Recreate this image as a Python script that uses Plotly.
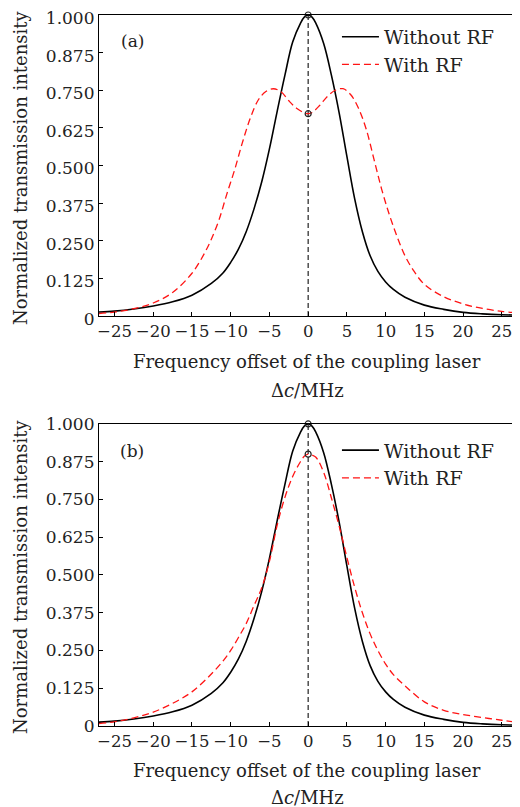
import plotly.graph_objects as go

# ---------------- data ----------------
x_grid = [-27, -25, -22.5, -20, -17.5, -15, -12.5, -11, -10, -9, -8, -7, -6, -5, -4, -3, -2, -1, -0.5, 0,
          0.5, 1, 2, 3, 4, 5, 6, 7, 8, 9, 10, 11, 12.5, 15, 17.5, 20, 22.5, 25, 27]
without_rf = [0.013, 0.016, 0.023, 0.033, 0.047, 0.069, 0.108, 0.143, 0.178, 0.222, 0.28, 0.355, 0.445, 0.555,
              0.68, 0.8, 0.91, 0.972, 0.993, 1.0, 0.993, 0.972, 0.905, 0.80, 0.675, 0.53, 0.39, 0.28, 0.2,
              0.148, 0.113, 0.088, 0.062, 0.036, 0.022, 0.012, 0.007, 0.004, 0.003]

x_rf_a = [-27, -25, -22.5, -20, -17.5, -15, -13.5, -12.5, -11.5, -10.5, -9.5, -8.5, -7.5, -6.5, -5.5, -4.5,
          -3.5, -2.5, -1.5, -0.5, 0, 0.5, 1.5, 2.5, 3.5, 4.5, 5.5, 6.5, 7.5, 8.5, 9.5, 10.5, 11.5, 12.5,
          13.5, 15, 17.5, 20, 22.5, 25, 27]
with_rf_a = [0.008, 0.013, 0.024, 0.043, 0.078, 0.142, 0.203, 0.255, 0.32, 0.405, 0.485, 0.575, 0.655,
             0.715, 0.745, 0.755, 0.745, 0.715, 0.69, 0.675, 0.672, 0.676, 0.7, 0.73, 0.75, 0.755, 0.735,
             0.69, 0.62, 0.52, 0.42, 0.335, 0.262, 0.2, 0.155, 0.105, 0.064, 0.04, 0.025, 0.015, 0.011]

with_rf_b = [0.008, 0.014, 0.027, 0.046, 0.075, 0.113, 0.172, 0.215, 0.25, 0.293, 0.339, 0.398, 0.457, 0.545,
             0.665, 0.757, 0.826, 0.875, 0.893, 0.9, 0.897, 0.89, 0.84, 0.755, 0.662, 0.558, 0.46, 0.375,
             0.305, 0.25, 0.205, 0.17, 0.133, 0.08, 0.052, 0.038, 0.028, 0.019, 0.012]

x_ticks = [-25, -20, -15, -10, -5, 0, 5, 10, 15, 20, 25]
x_ticktext = ["\u221225", "\u221220", "\u221215", "\u221210", "\u22125", "0", "5", "10", "15", "20", "25"]
y_ticks = [0, 0.125, 0.25, 0.375, 0.5, 0.625, 0.75, 0.875, 1.0]
y_ticktext = ["0", "0.125", "0.250", "0.375", "0.500", "0.625", "0.750", "0.875", "1.000"]
panel_labels = ["(a)", "(b)"]
x_title = "Frequency offset of the coupling laser"
x_unit = "\u0394<i>c</i>/MHz"
y_title = "Normalized transmission intensity"

# ---------------- figure ----------------
FONT = "DejaVu Serif"
TXT = "#222222"
RED = "#ff1414"
fig = go.Figure()

panels = [
    ("x", "y", x_grid, without_rf, x_rf_a, with_rf_a, "legend"),
    ("x2", "y2", x_grid, without_rf, x_grid, with_rf_b, "legend2"),
]

for xa, ya, xb, yb, xr, yr, leg in panels:
    i_pk = yb.index(max(yb))
    x0 = xb[i_pk]
    fig.add_trace(go.Scatter(x=[x0, x0], y=[0, yb[i_pk]], mode="lines", xaxis=xa, yaxis=ya,
                             line=dict(color=TXT, width=1.2, dash="5px,3px"),
                             showlegend=False, hoverinfo="skip"))
    fig.add_trace(go.Scatter(x=xb, y=yb, mode="lines", name="Without RF", xaxis=xa, yaxis=ya,
                             line=dict(color="black", width=1.6, shape="spline", smoothing=1.0),
                             legend=leg, legendgroup="a" + leg))
    fig.add_trace(go.Scatter(x=xr, y=yr, mode="lines", name="With RF", xaxis=xa, yaxis=ya,
                             line=dict(color=RED, width=1.3, dash="7px,4px", shape="spline", smoothing=1.0),
                             legend=leg, legendgroup="b" + leg))
    i_r0 = xr.index(x0)
    fig.add_trace(go.Scatter(x=[x0, x0], y=[yb[i_pk], yr[i_r0]], mode="markers", xaxis=xa, yaxis=ya,
                             marker=dict(symbol="circle-open", size=6, color=TXT, line=dict(width=1.2)),
                             showlegend=False, hoverinfo="skip", cliponaxis=False))

axis_common = dict(showline=True, linecolor="black", linewidth=1.2, mirror=True, ticks="inside",
                   ticklen=4, tickcolor="black", showgrid=False, zeroline=False, automargin=False,
                   ticklabeloverflow="allow")
xfont = dict(family=FONT, size=16.5, color=TXT)
yfont = dict(family=FONT, size=17, color=TXT)

# page body has an 8px margin: figure is 512x799 placed at (8, 8)
fig.update_layout(
    width=512, height=799,
    margin=dict(l=91, r=5, t=7, b=81),
    paper_bgcolor="white", plot_bgcolor="white",
    font=dict(family=FONT, color=TXT),
    xaxis=dict(domain=[0, 1], anchor="y", range=[-27, 26.7], tickvals=x_ticks, ticktext=x_ticktext,
               tickangle=0, tickfont=xfont, **axis_common),
    yaxis=dict(domain=[0.5767, 1], anchor="x", range=[0, 1.0], tickvals=y_ticks, ticktext=y_ticktext,
               tickfont=yfont, ticklabelshift=3, **axis_common),
    xaxis2=dict(domain=[0, 1], anchor="y2", range=[-27, 26.7], tickvals=x_ticks, ticktext=x_ticktext,
                tickangle=0, tickfont=xfont, **axis_common),
    yaxis2=dict(domain=[0, 0.4248], anchor="x2", range=[0, 1.0], tickvals=y_ticks, ticktext=y_ticktext,
                tickfont=yfont, **axis_common),
    legend=dict(x=0.572, y=0.996, xanchor="left", yanchor="top", bgcolor="rgba(0,0,0,0)",
                font=dict(family=FONT, size=19, color=TXT), tracegroupgap=0, itemwidth=37),
    legend2=dict(x=0.572, y=0.4145, xanchor="left", yanchor="top", bgcolor="rgba(0,0,0,0)",
                 font=dict(family=FONT, size=19, color=TXT), tracegroupgap=0, itemwidth=37),
)

# annotations in paper coords; plot area spans page px x 99..515, y 15..726
def py(px):
    return (726 - px) / 711.0

def pxx(px):
    return (px - 99) / 416.0

for lab, ly, t1, t2, yc in [(panel_labels[0], 41, 361, 390, 168),
                            (panel_labels[1], 451, 770, 797, 577)]:
    common = dict(xref="paper", yref="paper", showarrow=False, xanchor="center", yanchor="middle")
    fig.add_annotation(text=lab, x=pxx(132), y=py(ly), font=dict(family=FONT, size=17, color=TXT), **common)
    fig.add_annotation(text=x_title, x=0.5, y=py(t1), font=dict(family=FONT, size=18, color=TXT), **common)
    fig.add_annotation(text=x_unit, x=0.5, y=py(t2), font=dict(family=FONT, size=18, color=TXT), **common)
    fig.add_annotation(text=y_title, x=pxx(20), y=py(yc), textangle=-90,
                       font=dict(family=FONT, size=18, color=TXT), **common)

fig.write_html("out.html")
